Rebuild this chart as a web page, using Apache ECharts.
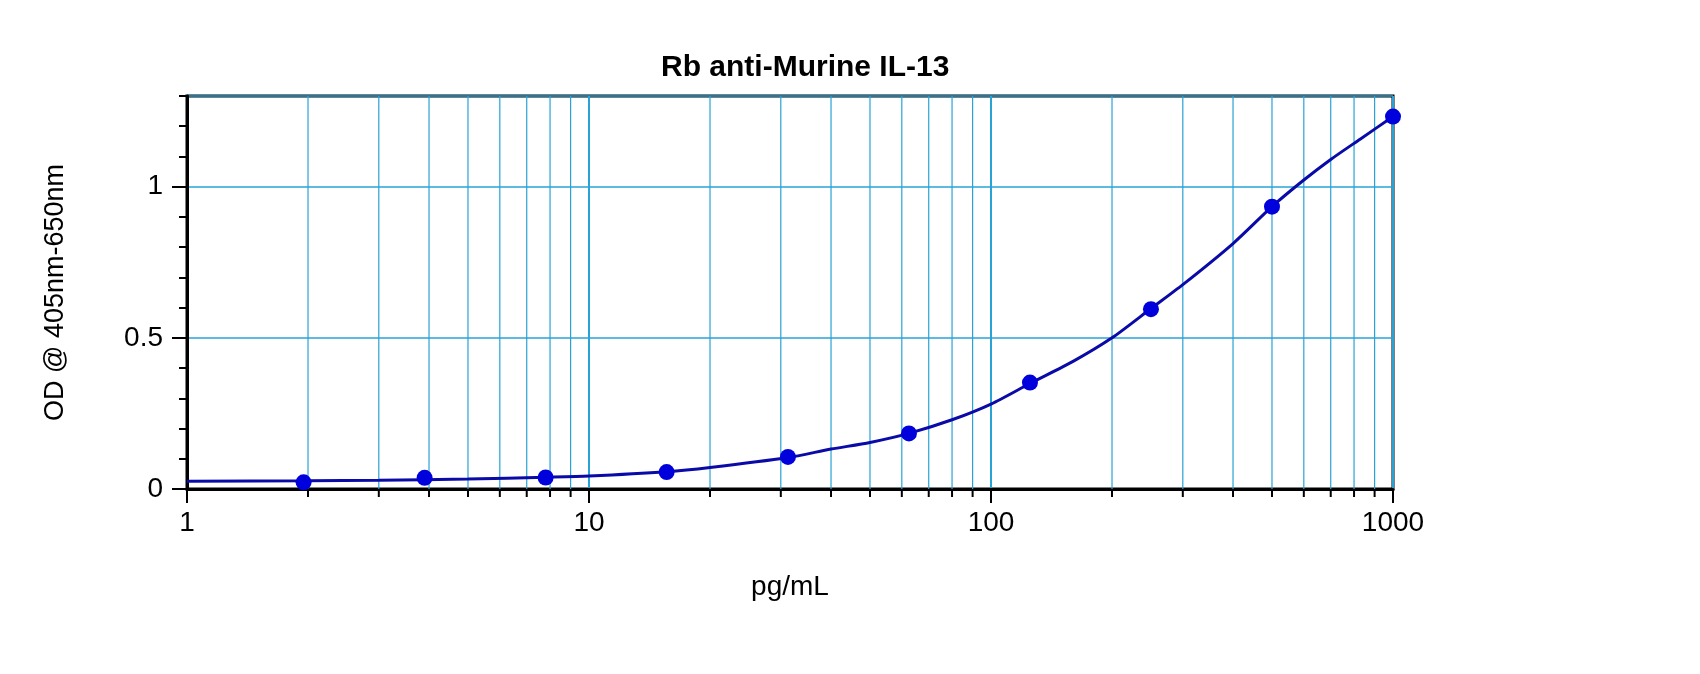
<!DOCTYPE html>
<html lang="en">
<head>
  <meta charset="utf-8" />
  <title>Rb anti-Murine IL-13</title>
  <script type="text/javascript" src="https://cdn.jsdelivr.net/npm/echarts@6/dist/echarts.min.js"></script>
  <style>
    html, body { margin: 0; padding: 0; background: #fff; }
    #chart { width: 1700px; height: 674px; }
  </style>
</head>
<body>
  <div id="chart"></div>
  <script>
    // standards (pg/mL) and measured OD
    const concentrations = [1.95, 3.9, 7.8, 15.6, 31.25, 62.5, 125, 250, 500, 1000];
    const odValues = [0.022, 0.037, 0.038, 0.056, 0.106, 0.184, 0.352, 0.595, 0.934, 1.232];

    // fitted curve
    const curveX = [1, 2, 3, 5, 7.8, 10, 15.6, 20, 31.25, 40, 50, 62.5, 80, 100,
                    125, 160, 200, 250, 300, 400, 500, 600, 700, 830, 1000];
    const curveY = [0.026, 0.027, 0.029, 0.033, 0.039, 0.043, 0.057, 0.071, 0.104, 0.132, 0.154, 0.184, 0.229, 0.281,
                    0.349, 0.422, 0.5, 0.597, 0.676, 0.812, 0.934, 1.022, 1.090, 1.158, 1.232];

    // log grid lines between the decades
    const minorGridX = [2, 3, 4, 5, 6, 7, 8, 9,
                        20, 30, 40, 50, 60, 70, 80, 90,
                        200, 300, 400, 500, 600, 700, 800, 900];

    const gridColor = '#29a3d6';
    const font = "'Liberation Sans', Arial, sans-serif";
    const yMax = 1.3;

    var chart = echarts.init(document.getElementById('chart'));
    var option = {
      animation: false,
      backgroundColor: '#fff',
      textStyle: { fontFamily: font, color: '#000' },
      title: {
        text: 'Rb anti-Murine IL-13',
        left: 656, top: 48,
        textStyle: { fontFamily: font, fontSize: 30, fontWeight: 'bold', color: '#000' }
      },
      grid: {
        left: 187, right: 307, top: 96, bottom: 185,
        show: true, borderColor: '#000', borderWidth: 3, backgroundColor: 'transparent'
      },
      xAxis: {
        type: 'log', logBase: 10, min: 1, max: 1000,
        name: 'pg/mL', nameLocation: 'middle', nameGap: 84,
        nameTextStyle: { fontFamily: font, fontSize: 28, color: '#000' },
        axisLine: { lineStyle: { color: '#000', width: 3 } },
        axisTick: { length: 14, lineStyle: { color: '#000', width: 2 } },
        axisLabel: {
          fontFamily: font, fontSize: 28, color: '#000', margin: 20,
          formatter: function (v) { return String(v); }
        },
        splitLine: { show: true, lineStyle: { color: gridColor, width: 2 } }
      },
      yAxis: [{
        type: 'value', min: 0, max: yMax, interval: 0.5,
        name: 'OD @ 405nm-650nm', nameLocation: 'middle', nameGap: 118,
        nameTextStyle: { fontFamily: font, fontSize: 27, color: '#000' },
        axisLine: { show: true, lineStyle: { color: '#000', width: 3 } },
        axisTick: { show: true, length: 15, lineStyle: { color: '#000', width: 2 } },
        axisLabel: { fontFamily: font, fontSize: 28, color: '#000', margin: 24, showMaxLabel: false },
        splitLine: { show: true, lineStyle: { color: gridColor, width: 1.5 } }
      }, {
        type: 'value', min: 0, max: yMax, interval: 0.1, position: 'left',
        axisLine: { show: false },
        axisTick: { show: true, length: 8, lineStyle: { color: '#000', width: 2 } },
        axisLabel: { show: false },
        splitLine: { show: false }
      }],
      series: [{
        type: 'custom',
        silent: true,
        z: 1,
        encode: { x: 0, y: 1 },
        data: minorGridX.map(function (x) { return [x, 0]; }),
        renderItem: function (params, api) {
          var b = api.coord([api.value(0), 0]);
          var t = api.coord([api.value(0), yMax]);
          return {
            type: 'group',
            children: [
              { type: 'line', shape: { x1: b[0], y1: b[1], x2: t[0], y2: t[1] },
                style: { stroke: gridColor, lineWidth: 1.2 } },
              { type: 'line', shape: { x1: b[0], y1: b[1], x2: b[0], y2: b[1] + 8 },
                style: { stroke: '#000', lineWidth: 2 } }
            ]
          };
        }
      }, {
        name: 'fit',
        type: 'line',
        z: 3,
        smooth: 0.25,
        showSymbol: false,
        lineStyle: { color: '#0a0aa8', width: 3 },
        data: curveX.map(function (x, i) { return [x, curveY[i]]; })
      }, {
        name: 'standards',
        type: 'scatter',
        z: 4,
        symbolSize: 16,
        itemStyle: { color: '#0000dd', opacity: 1 },
        data: concentrations.map(function (x, i) { return [x, odValues[i]]; })
      }]
    };
    chart.setOption(option);
  </script>
</body>
</html>
